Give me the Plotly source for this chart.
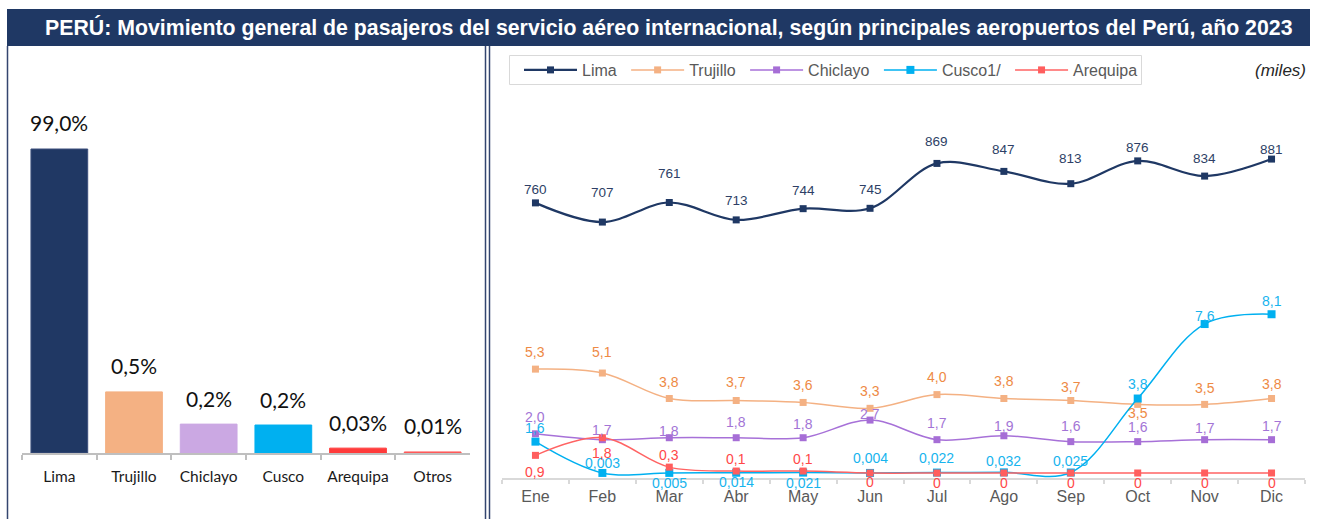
import plotly.graph_objects as go

W, H = 1317, 519

# ---------------- Data ----------------
# Left panel: share of international passengers by airport (2023)
aeropuertos = ["Lima", "Trujillo", "Chiclayo", "Cusco", "Arequipa", "Otros"]
participacion_txt = ["99,0%", "0,5%", "0,2%", "0,2%", "0,03%", "0,01%"]
altura_barra = [100, 20.1, 9.5, 9.2, 1.6, 0.35]   # bar heights as drawn in the original (not to scale)

# Right panel: monthly passengers (miles)
meses = ["Ene", "Feb", "Mar", "Abr", "May", "Jun", "Jul", "Ago", "Sep", "Oct", "Nov", "Dic"]
lima = [760, 707, 761, 713, 744, 745, 869, 847, 813, 876, 834, 881]
trujillo = [5.3, 5.1, 3.8, 3.7, 3.6, 3.3, 4.0, 3.8, 3.7, 3.5, 3.5, 3.8]
chiclayo = [2.0, 1.7, 1.8, 1.8, 1.8, 2.7, 1.7, 1.9, 1.6, 1.6, 1.7, 1.7]
cusco = [1.6, 0.003, 0.005, 0.014, 0.021, 0.004, 0.022, 0.032, 0.025, 3.8, 7.6, 8.1]
arequipa = [0.9, 1.8, 0.3, 0.1, 0.1, 0, 0, 0, 0, 0, 0, 0]

titulo = "PERÚ: Movimiento general de pasajeros del servicio aéreo internacional, según principales aeropuertos del Perú, año 2023"


def fmt(v, kind):
    if v == 0:
        return "0"
    if kind == "int":
        return f"{v:.0f}"
    if kind == "auto":
        dec = 3 if v < 0.1 else 1
    else:
        dec = 1
    return f"{v:.{dec}f}".replace(".", ",")


def px(x):
    return x / W


def py(y):
    return 1 - y / H


ARIAL = "Liberation Sans, Arial, sans-serif"
CALI = "Lato, Carlito, Calibri, sans-serif"
NBSP = "\u00a0"

fig = go.Figure()

# ---------------- Left bar chart ----------------
bar_colors = ["#203864", "#F4B183", "#CBA8E3", "#00B0F0", "#FF3B3B", "#FF5A5A"]
fig.add_trace(go.Bar(
    x=aeropuertos, y=altura_barra, xaxis="x", yaxis="y",
    marker=dict(color=bar_colors, line=dict(color=["#3C4F7C"] + bar_colors[1:], width=1)),
    showlegend=False, hoverinfo="skip",
))

annotations = []
for cat, h, t in zip(aeropuertos, altura_barra, participacion_txt):
    annotations.append(dict(
        x=cat, y=h, xref="x", yref="y", text=t, showarrow=False,
        yanchor="middle", yshift=26, font=dict(family=CALI, size=21, color="#111111"),
    ))

# ---------------- Right line chart ----------------
series = [
    ("Lima", lima, "y3", "#1F3864", "#1F3864", "#2E3F66", 2.2, 7, "int",
     [13, 30, 29, 19, 18, 19, 22, 22, 25, 13, 18, 10]),
    ("Trujillo", trujillo, "y2", "#F4B183", "#F4B183", "#EE8A45", 1.5, 7, "one",
     [17, 21, 17, 18, 17, 17, 18, 18, 13, -9, 16, 15]),
    ("Chiclayo", chiclayo, "y2", "#A771D8", "#A66ED6", "#A374D6", 1.5, 7, "one",
     [17, 10, 7, 16, 14, 6, 17, 10, 16, 15, 12, 14]),
    ("Cusco1/", cusco, "y2", "#00B0F0", "#00B0F0", "#17B4EE", 1.5, 8, "auto",
     [14, 10, -10, -9, -10, 15, 15, 11, 12, 15, 8, 13]),
    ("Arequipa", arequipa, "y2", "#FF6363", "#FF5E5E", "#FF4848", 1.5, 7, "one",
     [-17, -15, 12, 12, 12, -9, -10, -10, -10, -10, -10, -10]),
]

for name, vals, yax, lc, mc, tc, lw, ms, kind, offs in series:
    fig.add_trace(go.Scatter(
        x=meses, y=vals, name=name + NBSP, xaxis="x2", yaxis=yax,
        mode="lines+markers", line=dict(color=lc, width=lw, shape="spline"),
        marker=dict(symbol="square", size=ms, color=mc),
        cliponaxis=False, hoverinfo="skip",
    ))
    for m, v, o in zip(meses, vals, offs):
        annotations.append(dict(
            x=m, y=v, xref="x2", yref=yax, text=fmt(v, kind), showarrow=False,
            yanchor="middle", yshift=o,
            font=dict(family=ARIAL, size=13.5 if name == "Lima" else 14, color=tc),
        ))

# Title and unit
annotations.append(dict(
    x=px(669.5), y=py(27.5), xref="paper", yref="paper", text=titulo, showarrow=False,
    xanchor="center", yanchor="middle",
    font=dict(family=ARIAL, size=21.3, color="white", weight="bold"),
))
annotations.append(dict(
    x=px(1308), y=py(70), xref="paper", yref="paper", text="<i>(miles)</i>", showarrow=False,
    xanchor="right", yanchor="middle", font=dict(family=ARIAL, size=17, color="#262626"),
))

shapes = [
    dict(type="rect", xref="paper", yref="paper", x0=px(7), x1=px(1310), y0=py(46), y1=py(9),
         fillcolor="#1F3864", line=dict(width=0), layer="below"),
    dict(type="line", xref="paper", yref="paper", x0=px(7.5), x1=px(7.5), y0=0, y1=py(46),
         line=dict(color="#34466F", width=1.5)),
    dict(type="line", xref="paper", yref="paper", x0=px(485.5), x1=px(485.5), y0=0, y1=py(46),
         line=dict(color="#34466F", width=1.5)),
    dict(type="line", xref="paper", yref="paper", x0=px(489.5), x1=px(489.5), y0=0, y1=py(46),
         line=dict(color="#34466F", width=1.5)),
    # legend frame
    dict(type="rect", xref="paper", yref="paper", x0=px(509.5), x1=px(1141.5), y0=py(84.5), y1=py(55.5),
         fillcolor="white", line=dict(color="#D9D9D9", width=1), layer="below"),
]

y2_min = -0.255
y2_span = 383 / 19.6
y3_span = 383 / 0.362

fig.update_layout(
    width=W, height=H, autosize=False,
    margin=dict(l=0, r=0, t=0, b=0),
    paper_bgcolor="white", plot_bgcolor="rgba(0,0,0,0)",
    bargap=0.24,
    xaxis=dict(domain=[px(22), px(470)], anchor="y", type="category", range=[-0.5, 5.5],
               showline=True, linecolor="#BFBFBF", linewidth=1.5, ticks="outside",
               tickson="boundaries", ticklen=5, tickcolor="#BFBFBF", tickwidth=1.5,
               ticklabelstandoff=9,
               tickfont=dict(family=CALI, size=15.5, color="#1A1A1A"), showgrid=False),
    yaxis=dict(domain=[py(453), py(60)], range=[0, 393 / 3.04], visible=False),
    xaxis2=dict(domain=[px(502), px(1305)], anchor="y2", type="category", range=[-0.5, 11.5],
                showline=True, linecolor="#D9D9D9", linewidth=1.5, ticks="outside",
                tickson="boundaries", ticklen=4, tickcolor="#D9D9D9", tickwidth=1.5,
                ticklabelstandoff=3,
                tickfont=dict(family=ARIAL, size=16, color="#595959"), showgrid=False),
    yaxis2=dict(domain=[py(478), py(95)], range=[y2_min, y2_min + y2_span], visible=False),
    yaxis3=dict(overlaying="y2", anchor="x2", range=[0, y3_span], visible=False),
    legend=dict(orientation="h", x=px(519), y=py(53), xanchor="left", yanchor="top",
                borderwidth=0, bgcolor="rgba(0,0,0,0)",
                font=dict(family=ARIAL, size=16, color="#595959"), itemwidth=53,
                traceorder="normal"),
    annotations=annotations,
    shapes=shapes,
)

fig.write_html(
    "out.html",
    config={"displayModeBar": False},
    post_script="document.body.style.margin='0';document.body.style.overflow='hidden';",
)
